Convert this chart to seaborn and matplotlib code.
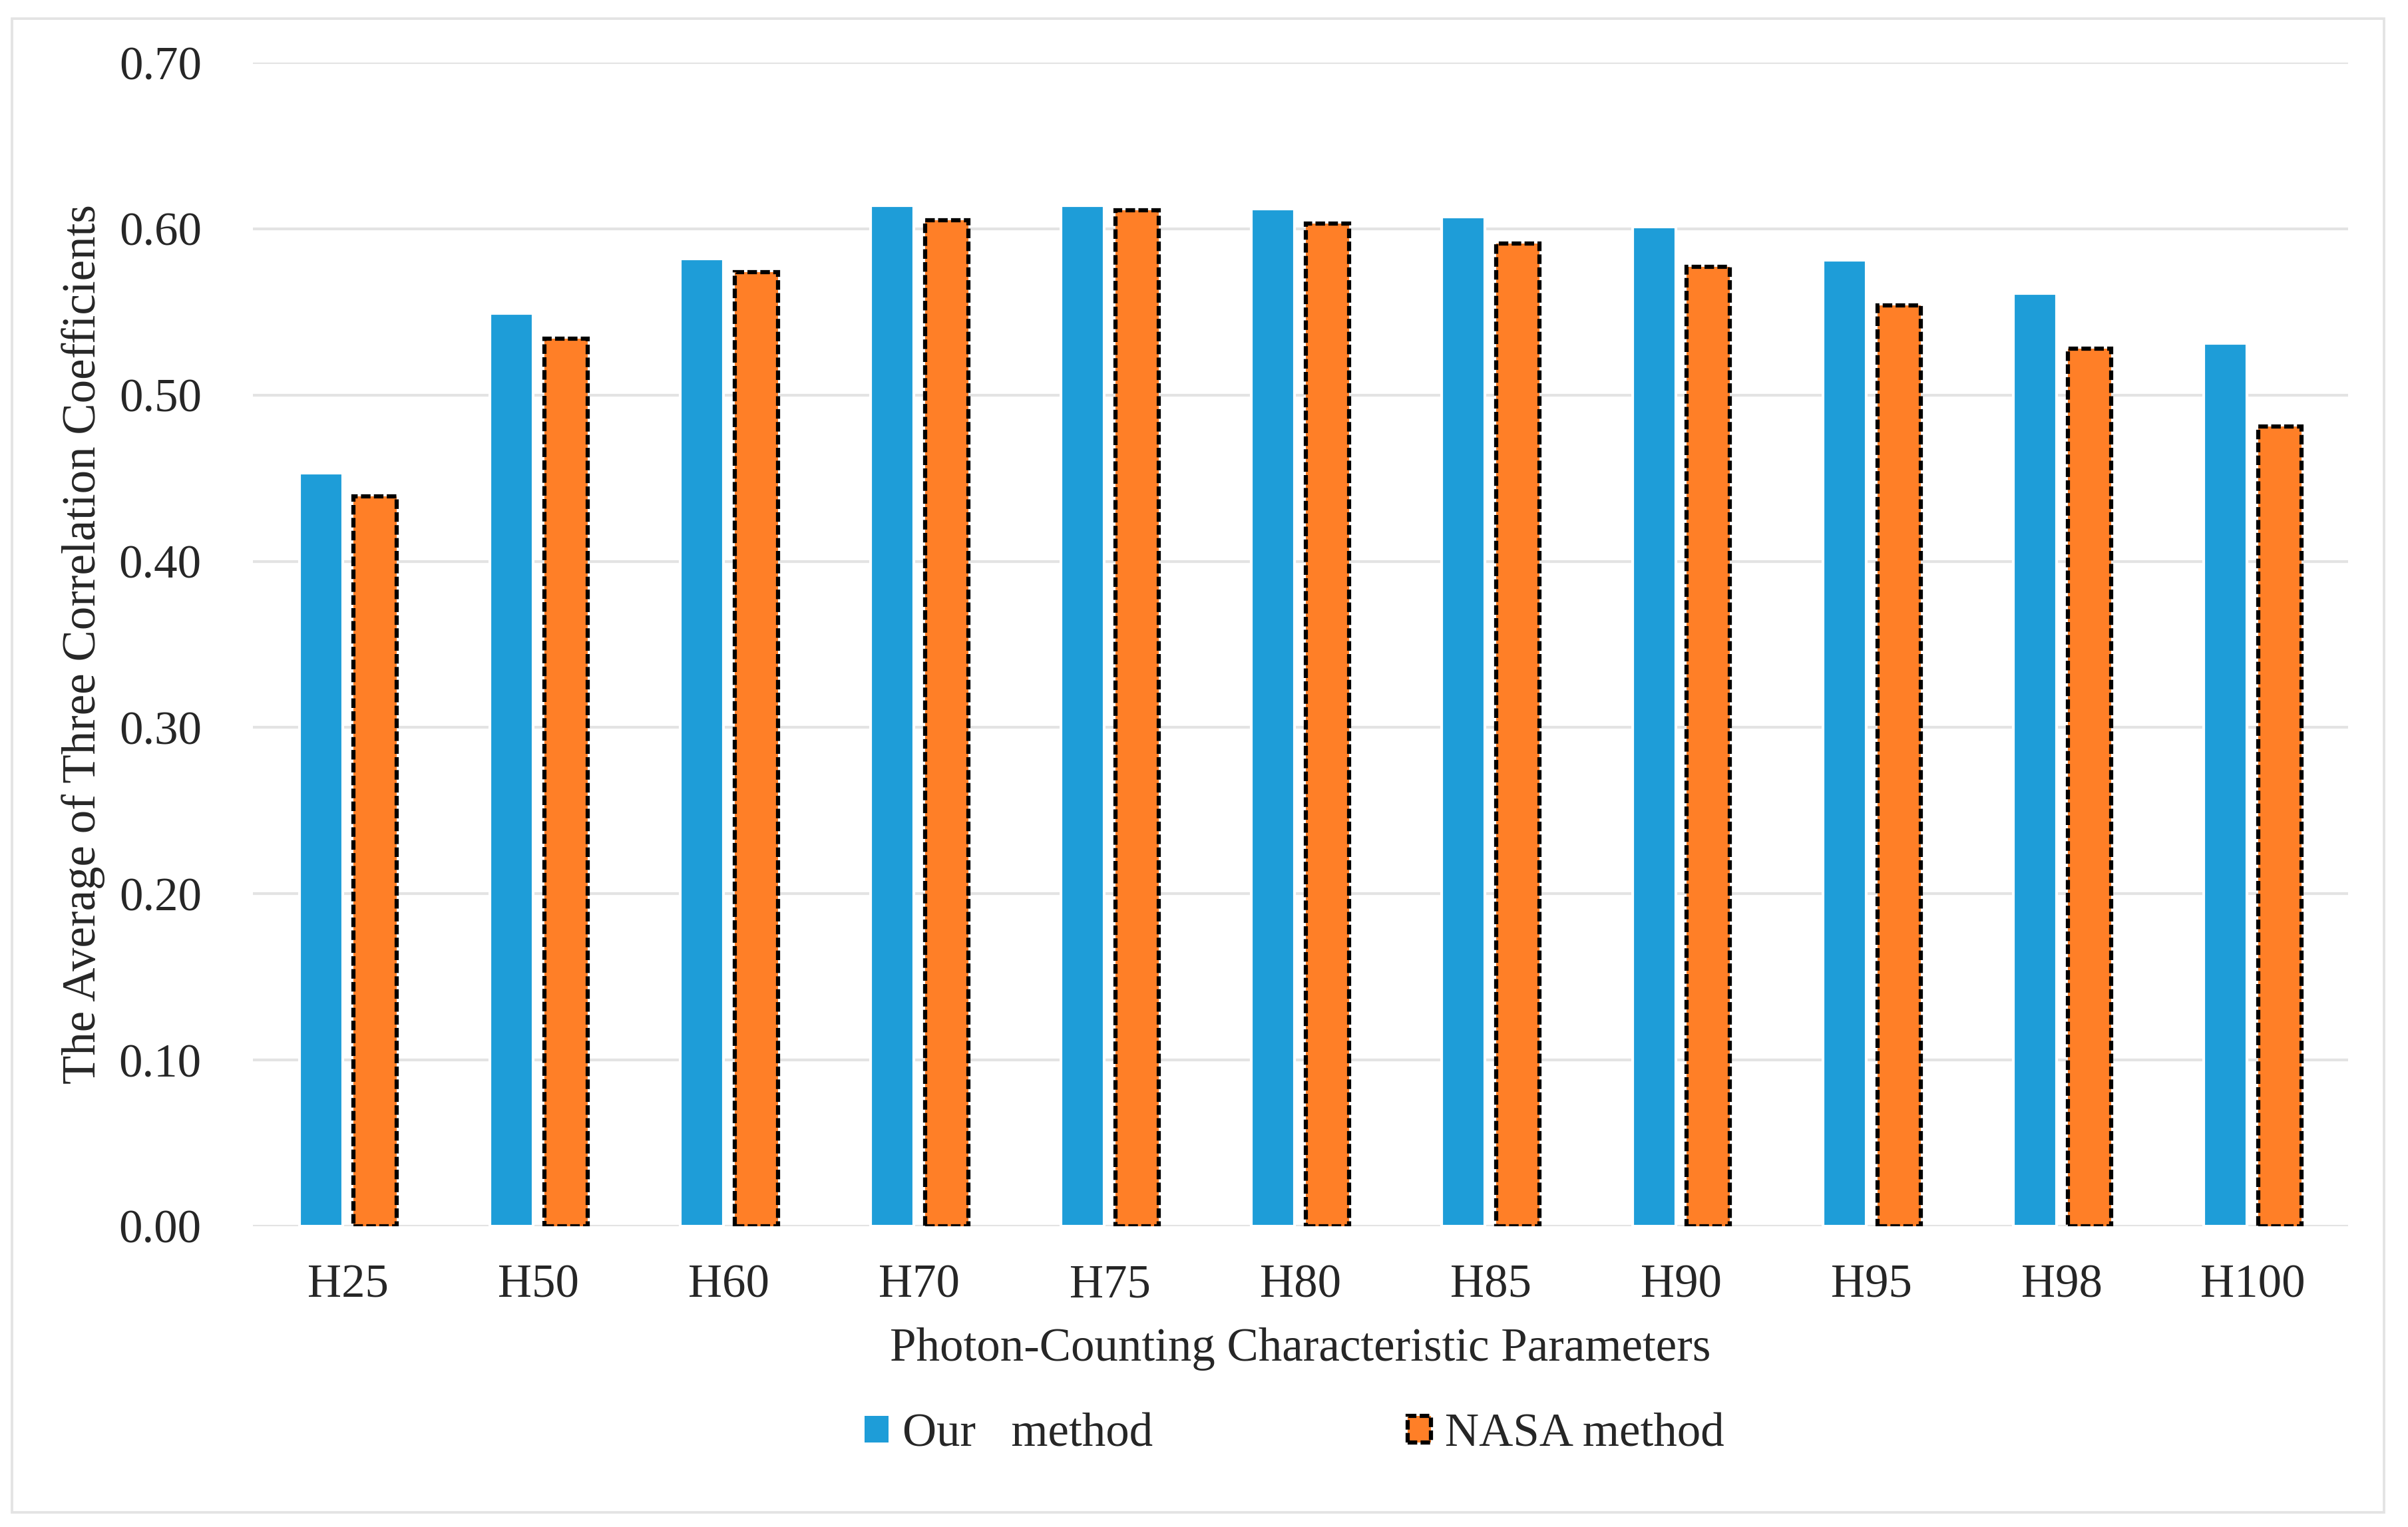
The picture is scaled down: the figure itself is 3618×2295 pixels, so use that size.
import matplotlib
matplotlib.use('Agg')
import matplotlib.pyplot as plt
from matplotlib.patches import Patch, Rectangle
from matplotlib.ticker import FormatStrFormatter
import seaborn as sns
import pandas as pd

# ── data ──
params = ['H25', 'H50', 'H60', 'H70', 'H75', 'H80', 'H85', 'H90', 'H95', 'H98', 'H100']
our_method = [0.453, 0.549, 0.582, 0.614, 0.614, 0.612, 0.607, 0.601, 0.581, 0.561, 0.531]
nasa_method = [0.439, 0.534, 0.574, 0.605, 0.611, 0.603, 0.591, 0.577, 0.554, 0.528, 0.481]
series_names = ['Our   method', 'NASA method']

BLUE = '#1E9DD8'
ORANGE = '#FF7F27'
GRID = '#E3E3E3'

df = pd.DataFrame({
    'param': params * 2,
    'value': our_method + nasa_method,
    'method': [series_names[0]] * len(params) + [series_names[1]] * len(params),
})

sns.set_theme(style='white')
plt.rcParams['font.family'] = ['Liberation Serif', 'DejaVu Serif']
FS = 17

fig = plt.figure(figsize=(12.06, 7.65), dpi=300)
ax = fig.add_axes([0.105, 0.197, 0.870, 0.762])

sns.barplot(data=df, x='param', y='value', hue='method', order=params,
            hue_order=series_names, palette=[BLUE, ORANGE],
            width=0.572, gap=0.206, saturation=1, legend=False, ax=ax)

# NASA bars get the dashed black outline
dash = (0, (2.3, 0.8))
for bar in ax.containers[1]:
    bar.set_edgecolor('black')
    bar.set_linewidth(1.5)
    bar.set_linestyle(dash)

ax.set_xlim(-0.5, len(params) - 0.5)
ax.set_ylim(0, 0.70)
ax.set_yticks([0.0, 0.1, 0.2, 0.3, 0.4, 0.5, 0.6, 0.7])
ax.yaxis.set_major_formatter(FormatStrFormatter('%.2f'))
ax.yaxis.grid(True, color=GRID, linewidth=1.0)
ax.set_axisbelow(True)
for s in ax.spines.values():
    s.set_visible(False)

ax.tick_params(axis='y', length=0, pad=18.5, labelsize=FS)
ax.tick_params(axis='x', length=0, pad=13.5, labelsize=FS)
ax.set_xlabel('Photon-Counting Characteristic Parameters', fontsize=FS, labelpad=7.5)
ax.set_ylabel('The Average of Three Correlation Coefficients', fontsize=FS, labelpad=5)

handles = [Patch(facecolor=BLUE, edgecolor='none'),
           Patch(facecolor=ORANGE, edgecolor='black', linewidth=1.5, linestyle=dash)]
fig.legend(handles, series_names, loc='center', bbox_to_anchor=(0.5376, 0.0606),
           ncol=2, frameon=False, fontsize=FS, handlelength=0.5, handleheight=0.5,
           handletextpad=0.3, columnspacing=5.4)

# light chart-area border
fig.patches.append(Rectangle((18 / 3618, 1 - 2273 / 2295), 3564 / 3618, 2245 / 2295,
                             transform=fig.transFigure, fill=False,
                             edgecolor=GRID, linewidth=0.9))

fig.savefig('out.png', dpi=300)
plt.close(fig)
